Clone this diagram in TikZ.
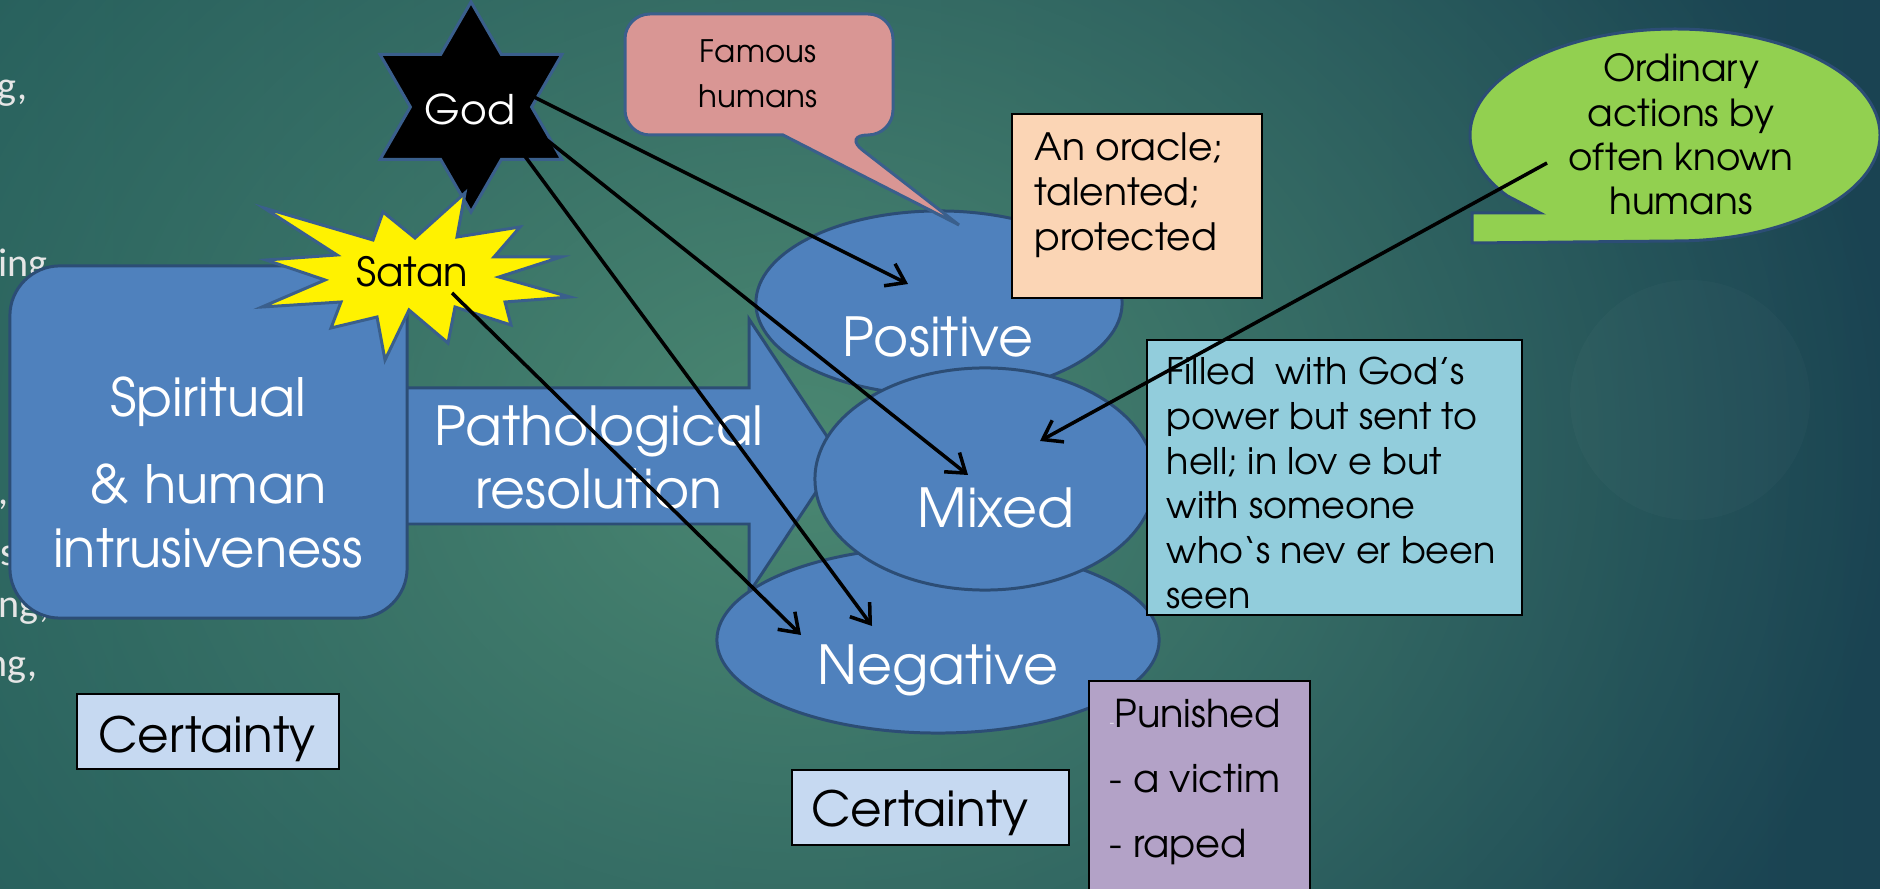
\documentclass[tikz,border=0pt]{standalone}
\usepackage{fontspec}
\setmainfont{TeX Gyre Adventor}
\newfontfamily\fragfont{Carlito}
\usetikzlibrary{arrows.meta,shapes.geometric,fadings,calc}
\definecolor{bgL}{HTML}{245C5B}
\definecolor{bgR}{HTML}{1A4352}
\definecolor{bgGlow}{HTML}{4B8872}
\definecolor{blueF}{HTML}{4F81BD}
\definecolor{blueB}{HTML}{2C4D75}
\definecolor{starB}{HTML}{3A5F8C}
\definecolor{pinkF}{HTML}{D99694}
\definecolor{peachF}{HTML}{FBD5B5}
\definecolor{cyanF}{HTML}{92CDDC}
\definecolor{purpF}{HTML}{B3A2C7}
\definecolor{certF}{HTML}{C6D9F1}
\definecolor{greenF}{HTML}{92D050}
\definecolor{fragC}{HTML}{E6E6E6}
\tikzfading[name=glowfade, inner color=transparent!0, outer color=transparent!100]
\newcommand\mystack[2]{\begin{tabular}[t]{@{}#1@{}}#2\end{tabular}}
\newcommand\setfs[2]{\fontsize{#1}{#2}\selectfont}
\begin{document}
\begin{tikzpicture}[x=0.01cm, y=-0.01cm,
  bluefill/.style={fill=blueF, draw=blueB, line width=0.85pt},
  txtbox/.style={draw=black, line width=0.6pt, inner sep=0pt},
  wtxt/.style={text=white, inner sep=0pt},
  ktxt/.style={text=black, inner sep=0pt},
  fragtxt/.style={text=fragC, inner sep=0pt, font=\fragfont\setfs{11.4}{13}},
  conn/.style={draw=black, line width=1pt, -{Straight Barb[length=5pt,width=7pt]}},
  ellnode/.style={bluefill, ellipse, inner sep=0pt},
]
\useasboundingbox (0,0) rectangle (1880,889);
% background
\shade[left color=bgL, right color=bgR] (0,0) rectangle (1880,889);
\fill[bgGlow, path fading=glowfade] (800,450) ellipse (1100 and 900);
\fill[white, opacity=0.02] (1690,400) circle (120);

% text fragments at the left edge
\node[fragtxt, anchor=base west] (fa) at (-3,100) {g,};
\node[fragtxt, anchor=base west] (fb) at (-2,277) {ing};
\node[fragtxt, anchor=base west] (fc) at (-2,505) {,};
\node[fragtxt, anchor=base west] (fd) at (0,566) {s};
\node[fragtxt, anchor=base east] (fe) at (50,618) {ng,};
\node[fragtxt, anchor=base east] (ff) at (38,676) {ng,};

% block arrow
\draw[bluefill] (395,388) -- (749,388) -- (749,319) -- (840,456) -- (749,593) -- (749,524) -- (395,524) -- cycle;

% spiritual box
\node[bluefill, rectangle, rounded corners=0.5cm, minimum width=3.97cm, minimum height=3.52cm, inner sep=0pt] (spirit) at (208.5,442) {};
\node[wtxt, anchor=base, font=\setfs{15}{18.2}] (spirittxt) at (208,417) {\mystack{c}{Spiritual\\[6.3pt]\& human\\intrusiveness}};
\node[wtxt, anchor=base, font=\setfs{15.3}{17.9}] (pathtxt) at (599,446) {\mystack{c}{Pathological\\resolution}};

% ellipses
\node[ellnode, minimum width=3.66cm, minimum height=1.84cm] (pos) at (939,303) {};
\node[ellnode, minimum width=4.42cm, minimum height=1.86cm] (neg) at (938,640) {};
\node[ellnode, minimum width=3.40cm, minimum height=2.22cm] (mix) at (985,479) {};
\node[wtxt, anchor=base, font=\setfs{15.3}{18}] (postxt) at (938,357) {Positive};
\node[wtxt, anchor=base, font=\setfs{15.3}{18}] (mixtxt) at (996,528) {Mixed};
\node[wtxt, anchor=base, font=\setfs{15.3}{18}] (negtxt) at (938,685) {Negative};

% famous humans callout
\path[fill=pinkF, draw=starB, line width=0.85pt] (783,135) [rounded corners=0.25cm] -- (625,135) -- (625,14) -- (893,14) -- (893,135) -- (843,135) [sharp corners] -- (959,225) -- cycle;
\node[ktxt, anchor=base, font=\setfs{8.8}{12.8}] (famous) at (758,63) {\mystack{c}{Famous\\humans}};

% text boxes
\node[txtbox, fill=peachF, minimum width=2.50cm, minimum height=1.84cm] (oracle) at (1137,206) {};
\node[ktxt, anchor=base west, font=\setfs{10.7}{12.66}] (oracletxt) at (1034,161) {\mystack{l}{An oracle;\\talented;\\protected}};

\node[txtbox, fill=cyanF, minimum width=3.75cm, minimum height=2.75cm] (filled) at (1334.5,477.5) {};
\node[ktxt, anchor=base west, font=\setfs{10.4}{12.7}] (filledtxt) at (1166,385) {\mystack{l}{Filled\ \ with God’s\\power but sent to\\hell; in lov e but\\with someone\\who‘s nev er been\\seen}};

\node[txtbox, fill=purpF, minimum width=2.21cm, minimum height=2.30cm] (punish) at (1199.5,796) {};
\node[ktxt, anchor=base west, font=\setfs{10.9}{18.6}] (punishtxt) at (1109,727) {\mystack{l}{{\color{white!80!purpF}\fontsize{4}{4}\selectfont-}Punished\\- a victim\\- raped}};

\node[txtbox, fill=certF, minimum width=2.62cm, minimum height=0.75cm] (cert1) at (208,731.5) {};
\node[ktxt, anchor=base, font=\setfs{13.8}{16}] (cert1txt) at (207,752) {Certainty};
\node[txtbox, fill=certF, minimum width=2.77cm, minimum height=0.75cm] (cert2) at (930.5,807.5) {};
\node[ktxt, anchor=base, font=\setfs{13.8}{16}] (cert2txt) at (920,826) {Certainty};

% ordinary callout
\path[fill=greenF, draw=blueB, line width=0.85pt] (1472,243) -- (1675,241) arc[start angle=90, end angle=-215, x radius=205, y radius=106] -- (1540,213) -- (1472,213) -- cycle;
\coordinate (ordc) at (1675,135);
\node[ktxt, anchor=base, font=\setfs{10.6}{12.6}] (ordtxt) at (1681,82) {\mystack{c}{Ordinary\\actions by\\often known\\humans}};

% God star
\coordinate (godc) at (471,107);
\draw[fill=black, draw=starB, line width=0.85pt] (471,2) -- (501.3,54.5) -- (561.9,54.5) -- (531.6,107) -- (561.9,159.5) -- (501.3,159.5) -- (471,212) -- (440.7,159.5) -- (380.1,159.5) -- (410.4,107) -- (380.1,54.5) -- (440.7,54.5) -- cycle;
\node[wtxt, anchor=base, font=\setfs{11.6}{14}] (god) at (470,125) {God};

% Satan explosion
\coordinate (satanc) at (412,274);
\draw[fill=yellow, draw=starB, line width=0.85pt] (264,208) -- (373,240) -- (383,212) -- (415,238) -- (465,193) -- (457,237) -- (520,227) -- (494,257) -- (561,257) -- (499,277) -- (570,297) -- (505,302) -- (511,325) -- (455,307) -- (448,343) -- (409,310) -- (385,360) -- (377,317) -- (331,328) -- (341,302) -- (262,307) -- (325,280) -- (266,260) -- (337,255) -- cycle;
\node[ktxt, anchor=base, font=\setfs{11.4}{14}] (satan) at (412,287) {Satan};

% connectors
\draw[conn] ($(godc)+(63,-10)$) -- ($(pos.center)+(-31,-19)$);
\draw[conn] ($(godc)+(76,33)$) -- ($(mix.center)+(-17,-4)$);
\draw[conn] ($(godc)+(53,48)$) -- ($(neg.center)+(-66,-14)$);
\draw[conn] ($(satanc)+(40,19)$) -- ($(neg.center)+(-137,-5)$);
\draw[conn] ($(ordc)+(-128,28)$) -- ($(mix.center)+(55,-38)$);
\end{tikzpicture}
\end{document}
